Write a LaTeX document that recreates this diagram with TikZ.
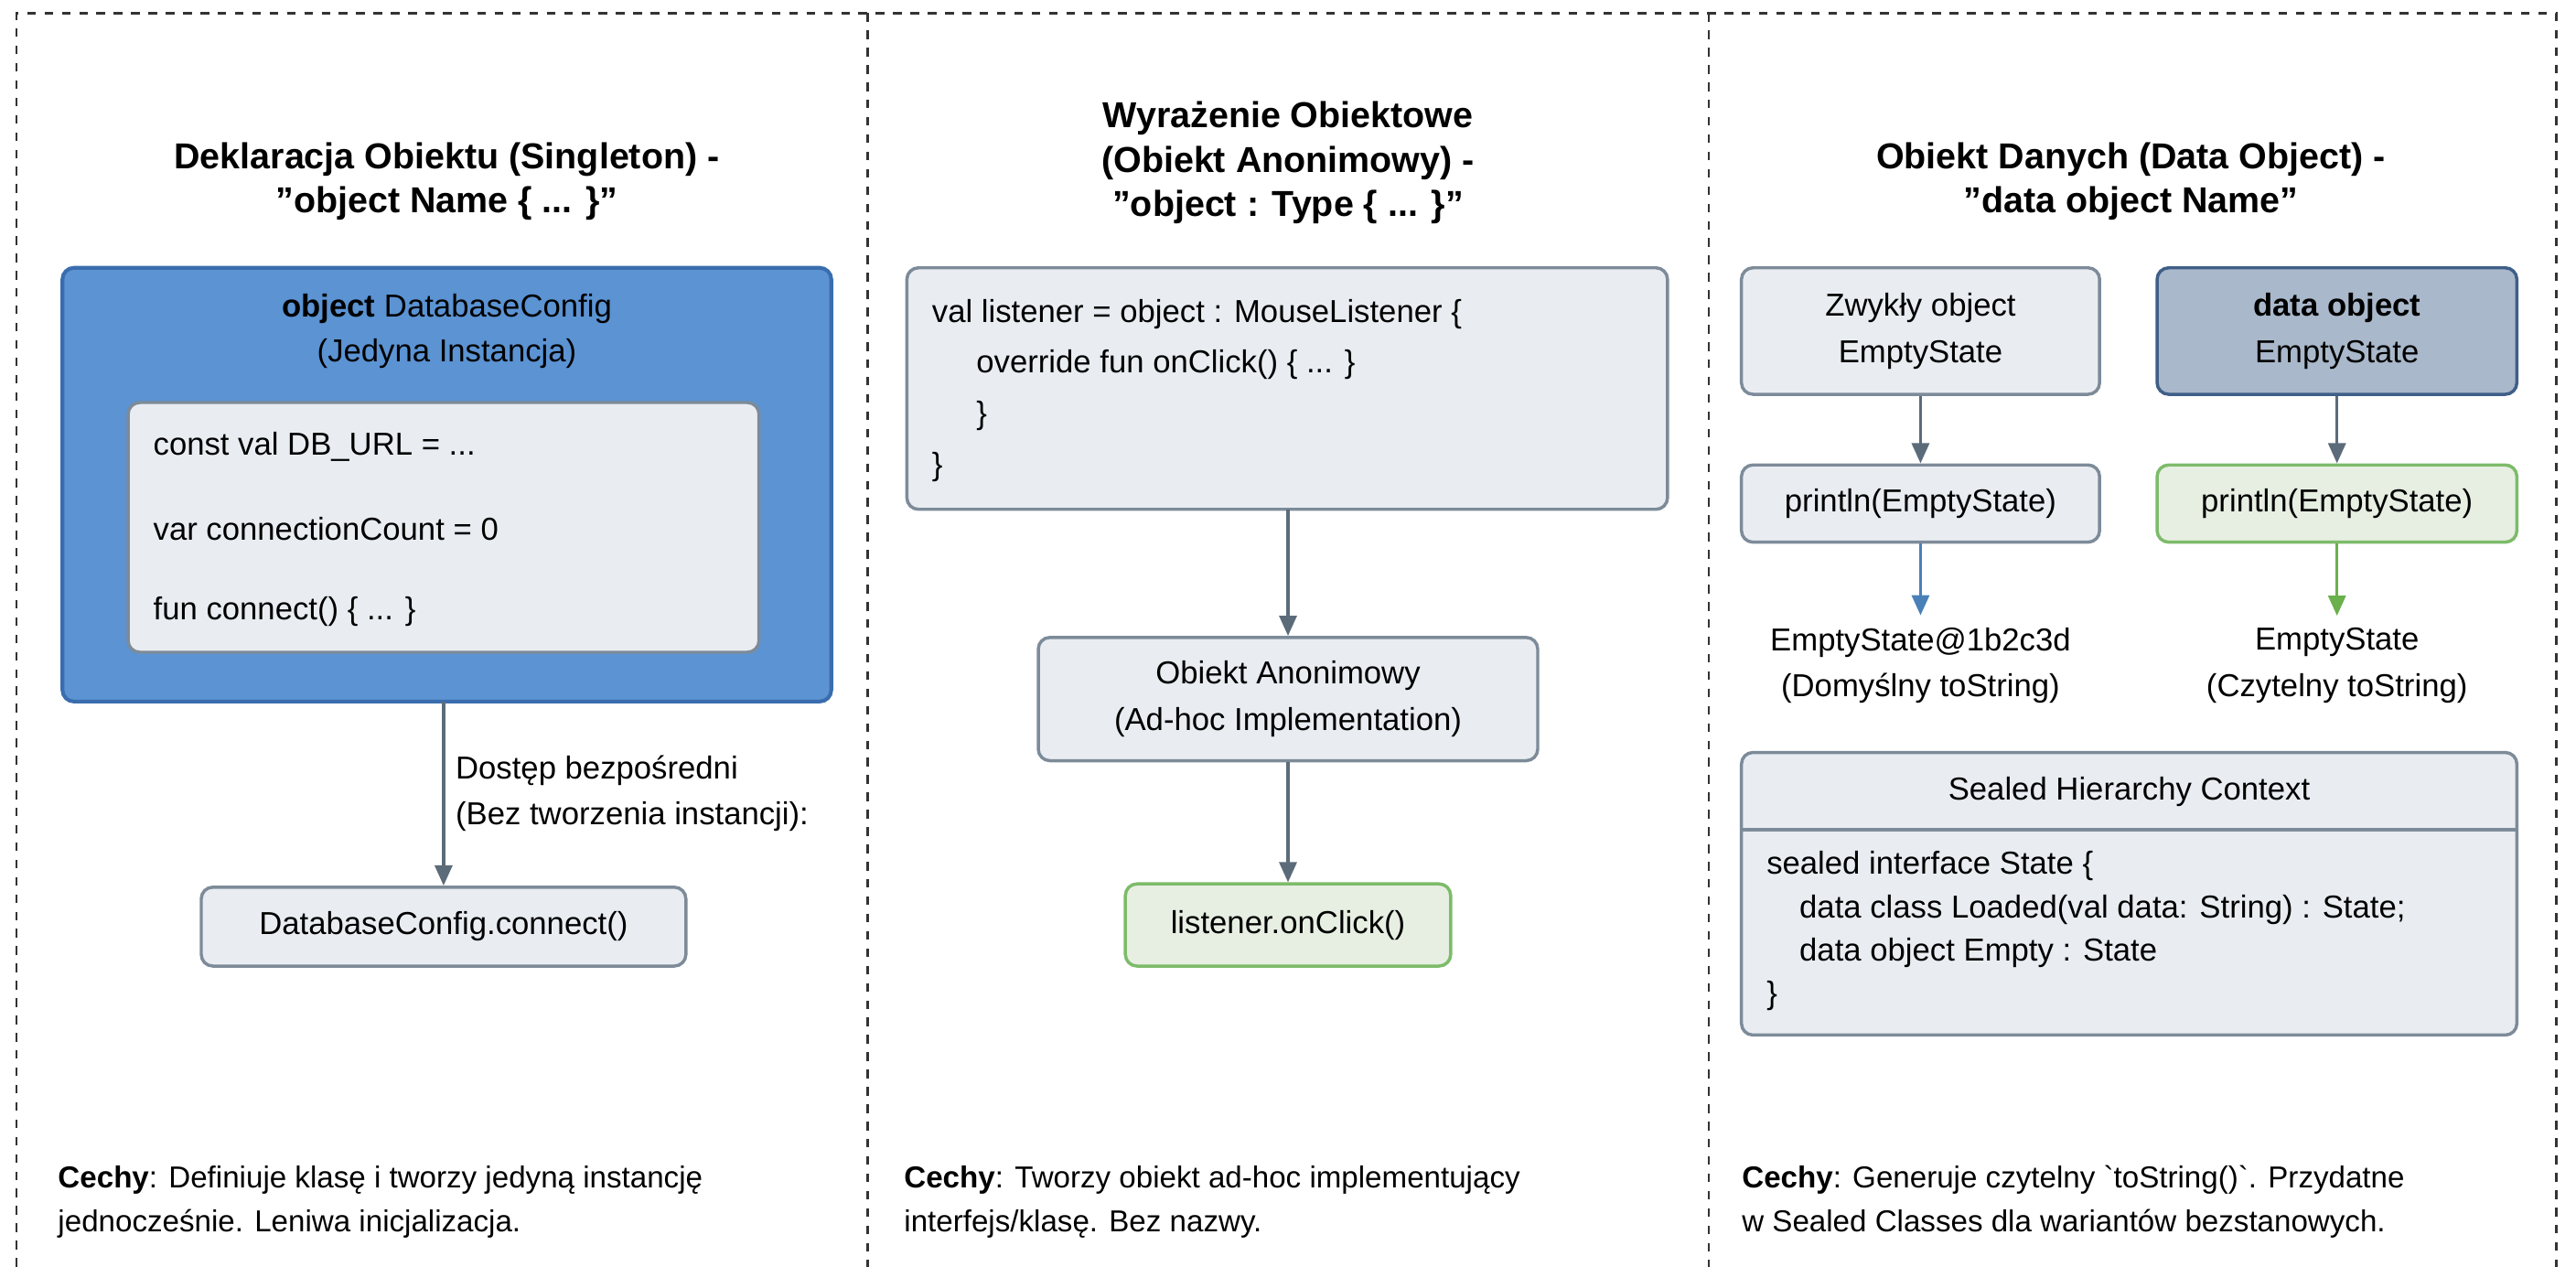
\documentclass[tikz,border=0pt]{standalone}
\usepackage{fontspec}
\setmainfont{Liberation Sans}
\usetikzlibrary{arrows.meta}
\definecolor{boxfill}{HTML}{E9EDF2}
\definecolor{boxline}{HTML}{7D8B99}
\definecolor{bluefill}{HTML}{5B93D3}
\definecolor{blueline}{HTML}{3A6DAE}
\definecolor{darkfill}{HTML}{A9B8CA}
\definecolor{darkline}{HTML}{3F5F88}
\definecolor{greenfill}{HTML}{E6EFE2}
\definecolor{greenline}{HTML}{7DBB6A}
\definecolor{arrgray}{HTML}{5C6B7A}
\definecolor{arrblue}{HTML}{4A80B8}
\definecolor{arrgreen}{HTML}{6AB04C}
\begin{document}
\begin{tikzpicture}[x=0.02cm,y=-0.02cm,
  box/.style={draw=boxline,fill=boxfill,line width=1.1pt,rounded corners=4pt},
  txt/.style={font=\fontsize{11}{13}\selectfont,inner sep=0pt},
  ttl/.style={font=\fontsize{12.5}{15}\selectfont\bfseries,inner sep=0pt},
  cech/.style={font=\fontsize{10.5}{13}\selectfont,inner sep=0pt,anchor=west},
  arr/.style={-{Triangle[length=7pt,width=6pt]},line width=1.1pt,draw=arrgray},
  dframe/.style={dashed,line width=0.8pt,draw=black!80}]
\useasboundingbox (0,0) rectangle (1568,771);
% frame
\draw[dframe] (10,771) -- (10,8) -- (1556,8) -- (1556,771);
\draw[dframe] (528,8) -- (528,771);
\draw[dframe] (1040,8) -- (1040,771);
% ---------- panel 1
\node[ttl] (t1a) at (272,97) {Deklaracja Obiektu (Singleton) -};
\node[ttl] (t1b) at (272,124) {"object Name \{ ... \}"};
\draw[draw=blueline,fill=bluefill,line width=1.3pt,rounded corners=4pt] (38,163) rectangle (506,427);
\node[txt] (b1a) at (272,188) {\textbf{object} DatabaseConfig};
\node[txt] (b1b) at (272,215) {(Jedyna Instancja)};
\draw[box] (78,245) rectangle (462,397);
\node[txt,anchor=west] (c1) at (93,272) {const val DB\_URL = ...};
\node[txt,anchor=west] (c2) at (93,322) {var connectionCount = 0};
\node[txt,anchor=west] (c3) at (93,372) {fun connect() \{ ... \}};
\coordinate (p1top) at (270,427);
\node[box,txt,minimum width=295*0.02cm,minimum height=48*0.02cm] (conn) at (270,564) {DatabaseConfig.connect()};
\draw[arr] (p1top) -- (conn.north);
\node[txt,anchor=west,align=left] (lbl1) at (277,483) {Dostęp bezpośredni\\[3pt](Bez tworzenia instancji):};
\node[cech] (ce1a) at (35,718) {\textbf{Cechy}: Definiuje klasę i tworzy jedyną instancję};
\node[cech] (ce1b) at (35,745) {jednocześnie. Leniwa inicjalizacja.};
% ---------- panel 2
\node[ttl] (t2a) at (784,72) {Wyrażenie Obiektowe};
\node[ttl] (t2b) at (784,99) {(Obiekt Anonimowy) -};
\node[ttl] (t2c) at (784,126) {"object : Type \{ ... \}"};
\draw[box] (552,163) rectangle (1015,310);
\coordinate (b2bot) at (784,310);
\node[txt,anchor=west] (l1) at (567,191) {val listener = object : MouseListener \{};
\node[txt,anchor=west] (l2) at (594,222) {override fun onClick() \{ ... \}};
\node[txt,anchor=west] (l3) at (594,253) {\}};
\node[txt,anchor=west] (l4) at (567,284) {\}};
\node[box,txt,align=center,minimum width=304*0.02cm,minimum height=75*0.02cm] (anon) at (784,425.5) {Obiekt Anonimowy\\[3pt](Ad-hoc Implementation)};
\node[box,txt,draw=greenline,fill=greenfill,minimum width=198*0.02cm,minimum height=50*0.02cm] (click) at (784,563) {listener.onClick()};
\draw[arr] (b2bot) -- (anon.north);
\draw[arr] (anon.south) -- (click.north);
\node[cech] (ce2a) at (550,718) {\textbf{Cechy}: Tworzy obiekt ad-hoc implementujący};
\node[cech] (ce2b) at (550,745) {interfejs/klasę. Bez nazwy.};
% ---------- panel 3
\node[ttl] (t3a) at (1297,97) {Obiekt Danych (Data Object) -};
\node[ttl] (t3b) at (1297,124) {"data object Name"};
\node[box,txt,align=center,minimum width=218*0.02cm,minimum height=77*0.02cm] (za) at (1169,201.5) {Zwykły object\\[3pt]EmptyState};
\node[box,txt,align=center,draw=darkline,fill=darkfill,minimum width=219*0.02cm,minimum height=77*0.02cm] (da) at (1422.5,201.5) {\textbf{data object}\\[3pt]EmptyState};
\node[box,txt,minimum width=218*0.02cm,minimum height=47*0.02cm] (zp) at (1169,306.5) {println(EmptyState)};
\node[box,txt,draw=greenline,fill=greenfill,minimum width=219*0.02cm,minimum height=47*0.02cm] (dp) at (1422.5,306.5) {println(EmptyState)};
\node[txt,align=center] (zr) at (1169,405) {EmptyState@1b2c3d\\[3pt](Domyślny toString)};
\node[txt,align=center] (dr) at (1422.5,405) {EmptyState\\[3pt](Czytelny toString)};
\draw[arr] (za.south) -- (zp.north);
\draw[arr] (da.south) -- (dp.north);
\draw[arr,draw=arrblue] (zp.south) -- ([yshift=4pt]zr.north);
\draw[arr,draw=arrgreen] (dp.south) -- ([yshift=4pt]dr.north);
\draw[box] (1060,458) rectangle (1532,630);
\draw[draw=boxline,line width=1.1pt] (1060,505) -- (1532,505);
\node[txt] (sh) at (1296,482) {Sealed Hierarchy Context};
\node[txt,anchor=west] (s1) at (1075,527) {sealed interface State \{};
\node[txt,anchor=west] (s2) at (1095,554) {data class Loaded(val data: String) : State;};
\node[txt,anchor=west] (s3) at (1095,580) {data object Empty : State};
\node[txt,anchor=west] (s4) at (1075,606) {\}};
\node[cech] (ce3a) at (1060,718) {\textbf{Cechy}: Generuje czytelny \textasciigrave toString()\textasciigrave. Przydatne};
\node[cech] (ce3b) at (1060,745) {w Sealed Classes dla wariantów bezstanowych.};
\end{tikzpicture}
\end{document}
